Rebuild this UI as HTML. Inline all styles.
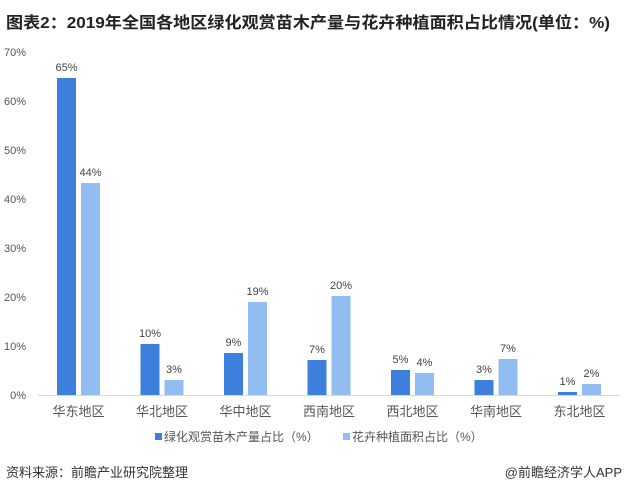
<!DOCTYPE html>
<html><head><meta charset="utf-8"><style>
body{margin:0;width:627px;height:494px;background:#fff;overflow:hidden}
</style></head><body>
<svg width="627" height="494" xmlns="http://www.w3.org/2000/svg" font-family="Liberation Sans, Noto Sans CJK SC, sans-serif">
<text x="6" y="28" font-size="16" font-weight="bold" fill="#222" textLength="604" lengthAdjust="spacingAndGlyphs">图表2：2019年全国各地区绿化观赏苗木产量与花卉种植面积占比情况(单位：%)</text>
<g font-size="11" fill="#555" text-anchor="end">
<text x="26" y="399">0%</text><text x="26" y="350">10%</text><text x="26" y="301">20%</text><text x="26" y="252">30%</text><text x="26" y="203">40%</text><text x="26" y="154">50%</text><text x="26" y="105">60%</text><text x="26" y="56">70%</text>
</g>
<line x1="38" y1="395.5" x2="620" y2="395.5" stroke="#d9d9d9"/>
<g fill="#3c7fdc">
<rect x="57" y="78" width="19" height="317"/>
<rect x="140.5" y="344" width="19" height="51"/>
<rect x="224" y="353" width="19" height="42"/>
<rect x="307.5" y="360" width="19" height="35"/>
<rect x="391" y="370" width="19" height="25"/>
<rect x="474.5" y="380" width="19" height="15"/>
<rect x="558" y="392" width="19" height="3"/>
</g>
<g fill="#92bdf0">
<rect x="81" y="183" width="19" height="212"/>
<rect x="164.5" y="380" width="19" height="15"/>
<rect x="248" y="302" width="19" height="93"/>
<rect x="331.5" y="296" width="19" height="99"/>
<rect x="415" y="373" width="19" height="22"/>
<rect x="498.5" y="359" width="19" height="36"/>
<rect x="582" y="384" width="19" height="11"/>
</g>
<g font-size="11" fill="#444" text-anchor="middle">
<text x="66.5" y="71">65%</text><text x="90.5" y="176">44%</text>
<text x="150" y="337">10%</text><text x="174" y="373">3%</text>
<text x="233.5" y="346">9%</text><text x="257.5" y="295">19%</text>
<text x="317" y="353">7%</text><text x="341" y="289">20%</text>
<text x="400.5" y="363">5%</text><text x="424.5" y="366">4%</text>
<text x="484" y="373">3%</text><text x="508" y="352">7%</text>
<text x="567.5" y="385">1%</text><text x="591.5" y="377">2%</text>
</g>
<g font-size="13" fill="#555" text-anchor="middle">
<text x="78.5" y="416">华东地区</text><text x="162" y="416">华北地区</text><text x="245.5" y="416">华中地区</text><text x="329" y="416">西南地区</text><text x="412.5" y="416">西北地区</text><text x="496" y="416">华南地区</text><text x="579.5" y="416">东北地区</text>
</g>
<rect x="155" y="433" width="7" height="7" fill="#3c7fdc"/>
<text x="164" y="441" font-size="12" fill="#555">绿化观赏苗木产量占比（%）</text>
<rect x="343" y="433" width="7" height="7" fill="#92bdf0"/>
<text x="352" y="441" font-size="12" fill="#555">花卉种植面积占比（%）</text>
<text x="6" y="477" font-size="13" fill="#333">资料来源：前瞻产业研究院整理</text>
<text x="622" y="477" font-size="13" fill="#333" text-anchor="end">@前瞻经济学人APP</text>
</svg>
</body></html>
